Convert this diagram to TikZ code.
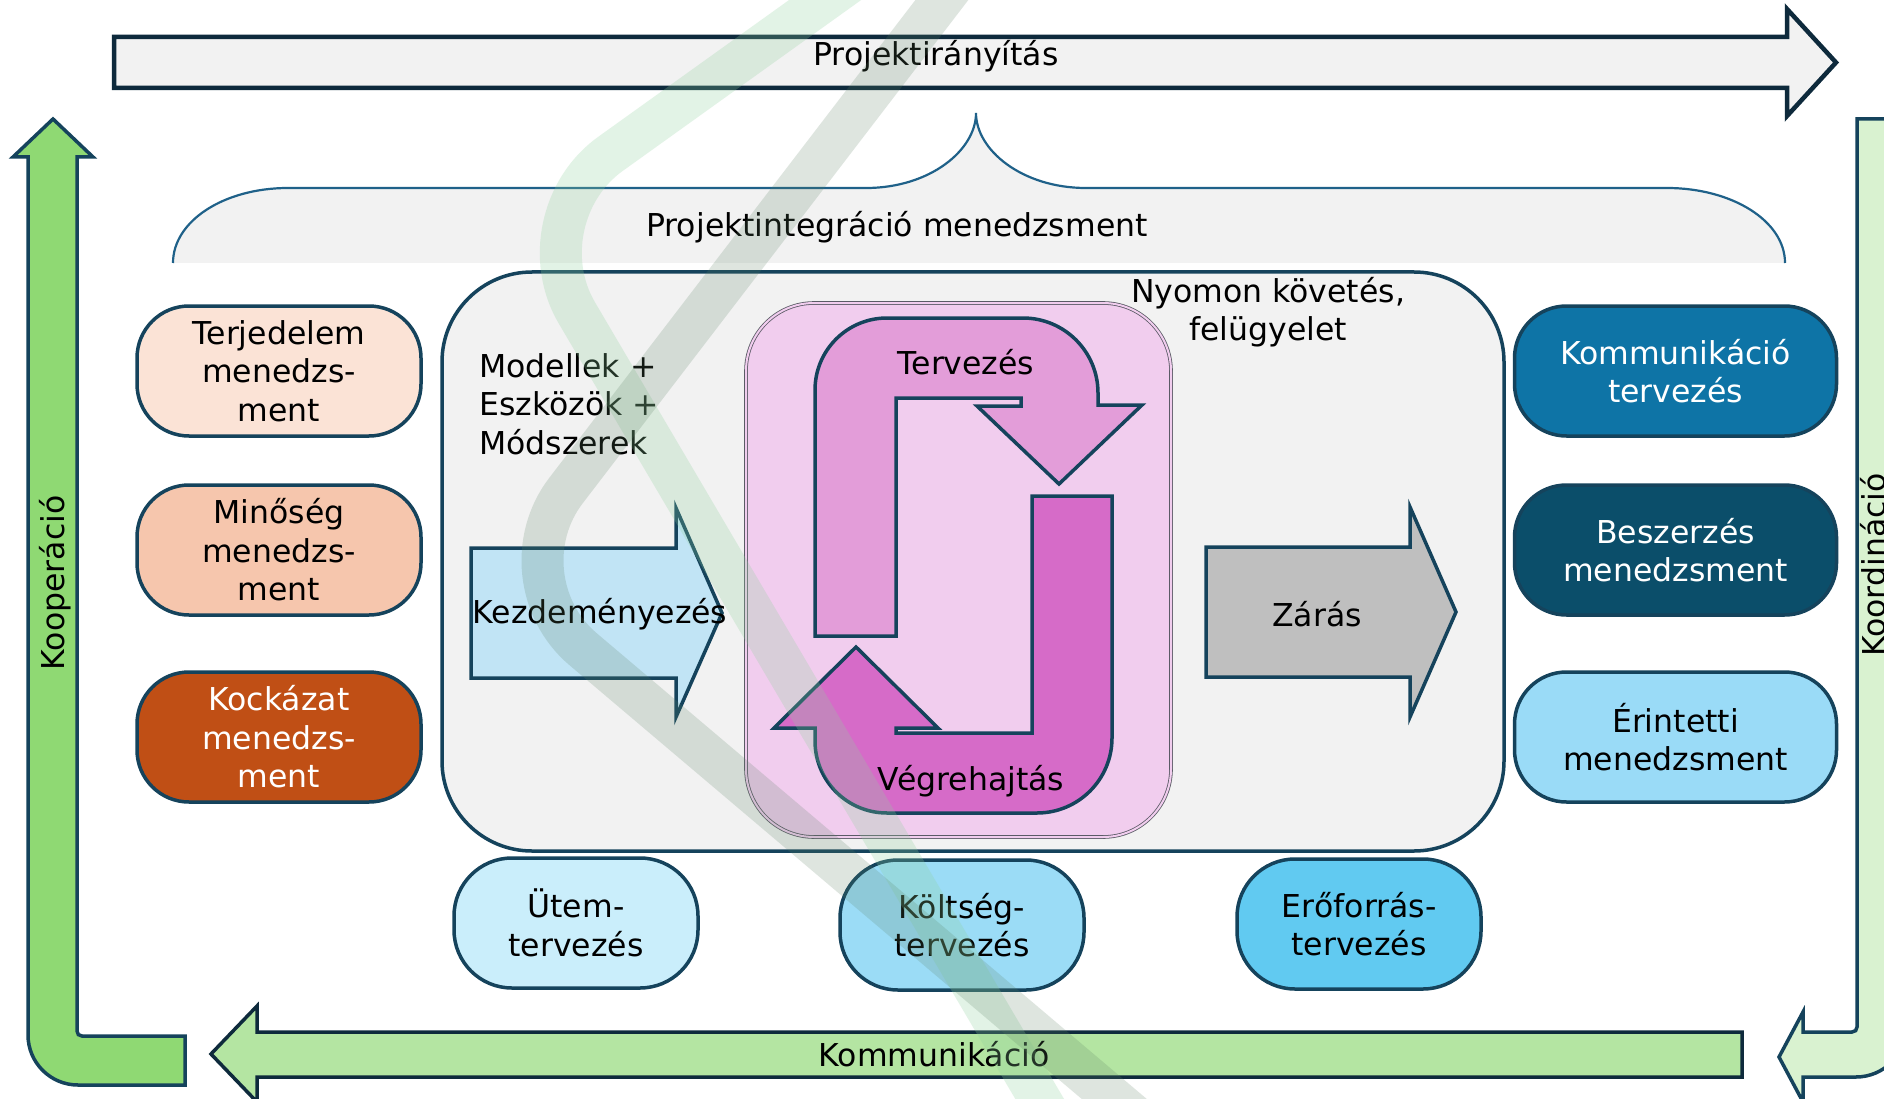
\documentclass[tikz,border=0pt]{standalone}
\usepackage{fontspec}
\setmainfont{DejaVu Sans}
\definecolor{edge}{HTML}{15435C}
\definecolor{darkedge}{HTML}{0E2A3C}
\definecolor{braceedge}{HTML}{1F6189}
\definecolor{panel}{HTML}{F2F2F2}
\definecolor{terjfill}{HTML}{FBE3D6}
\definecolor{minfill}{HTML}{F6C6AD}
\definecolor{kockfill}{HTML}{C04F15}
\definecolor{kommfill}{HTML}{0E74A6}
\definecolor{beszfill}{HTML}{0B4E6A}
\definecolor{erinfill}{HTML}{9ADBF7}
\definecolor{utemfill}{HTML}{CAEEFB}
\definecolor{koltfill}{HTML}{9BDCF6}
\definecolor{erofill}{HTML}{61CAF1}
\definecolor{pinkfill}{HTML}{F1CDEE}
\definecolor{pinkedge}{HTML}{5B5B66}
\definecolor{planfill}{HTML}{E39DD9}
\definecolor{execfill}{HTML}{D66BC8}
\definecolor{startfill}{HTML}{C1E4F5}
\definecolor{closefill}{HTML}{BFBFBF}
\definecolor{coopfill}{HTML}{8FD973}
\definecolor{coordfill}{HTML}{D9F2D0}
\definecolor{commfill}{HTML}{B4E5A2}
\definecolor{bandlight}{HTML}{8FD19E}
\definecolor{bandgray}{HTML}{5A7F63}
\begin{document}
\begin{tikzpicture}[x=1pt,y=-1pt,
  txt/.style={font=\fontsize{31.5}{38.5}\selectfont, align=center, inner sep=0pt},
  box/.style={txt, draw=edge, line width=3.5pt, rounded corners=52pt,
    minimum width=284pt, minimum height=130pt},
  rbox/.style={box, minimum width=322pt},
  bbox/.style={box, minimum width=244pt, rounded corners=58pt},
  blockarrow/.style={draw=edge, line width=3.5pt, line join=miter},
  band/.style={line width=42pt, rounded corners=110pt, line cap=butt}]
\useasboundingbox (0,0) rectangle (1884,1099);
\clip (0,0) rectangle (1884,1099);
\fill[white] (0,0) rectangle (1884,1099);

% top arrow: project control
\draw[blockarrow, draw=darkedge, line width=4.5pt, fill=panel]
  (114,37) -- (1787,37) -- (1787,9) -- (1836,62.5) -- (1787,116) -- (1787,88) -- (114,88) -- cycle;
\node[txt] (iranyitas) at (936,56) {Projektirányítás};

% brace-shaped band: integration management
\fill[panel] (173,263) .. controls (173,221) and (224,188) .. (288,188) -- (866,188)
  .. controls (930,188) and (976,150) .. (976,113)
  .. controls (976,150) and (1022,188) .. (1086,188) -- (1667,188)
  .. controls (1732,188) and (1785,221) .. (1785,263) -- cycle;
\draw[braceedge, line width=2.2pt] (173,263) .. controls (173,221) and (224,188) .. (288,188) -- (866,188)
  .. controls (930,188) and (976,150) .. (976,113)
  .. controls (976,150) and (1022,188) .. (1086,188) -- (1667,188)
  .. controls (1732,188) and (1785,221) .. (1785,263);
\node[txt] (integracio) at (897,227) {Projektintegráció menedzsment};

% central panel
\node[draw=edge, line width=3.5pt, fill=panel, rounded corners=90pt,
  minimum width=1062pt, minimum height=579pt, inner sep=0pt] (core) at (973,561.5) {};
\node[txt, align=left, anchor=west] (tools) at (479,404) {Modellek +\\Eszközök +\\Módszerek};
\node[txt] (monitor) at (1268,312) {Nyomon követés,\\felügyelet};

% planning / execution cycle
\node[draw=pinkedge, line width=0.8pt, double=pinkfill, double distance=2pt, fill=pinkfill,
  rounded corners=68pt, minimum width=425pt, minimum height=534pt, inner sep=0pt] (pdca) at (958.5,570) {};
\draw[blockarrow, fill=planfill]
  (815,636) -- (815,390) .. controls (815,350.2) and (847.2,318) .. (887,318)
  -- (1023,318) .. controls (1064.4,318) and (1098,351.6) .. (1098,393)
  -- (1098,405) -- (1142,405) -- (1059,484) -- (977,406) -- (1021,406) -- (1021,398)
  -- (896,398) -- (896,636) -- cycle;
\draw[blockarrow, fill=execfill]
  (1112,496) -- (1112,738) .. controls (1112,779.4) and (1078.4,813) .. (1037,813)
  -- (887,813) .. controls (847.2,813) and (815,780.8) .. (815,741)
  -- (815,728) -- (774,728) -- (856,647) -- (938,728) -- (896,728) -- (896,733)
  -- (1032,733) -- (1032,496) -- cycle;
\node[txt] (terv) at (966,362) {Tervezés};
\node[txt] (vegre) at (971,781) {Végrehajtás};

% initiation and closing arrows
\draw[blockarrow, fill=startfill]
  (471,548) -- (676,548) -- (676,508) -- (722,613) -- (676,717) -- (676,678) -- (471,678) -- cycle;
\node[txt] (kezd) at (600,614) {Kezdeményezés};
\draw[blockarrow, fill=closefill]
  (1206,547) -- (1410,547) -- (1410,507) -- (1456,612) -- (1410,717) -- (1410,677) -- (1206,677) -- cycle;
\node[txt] (zaras) at (1317,614) {Zárás};

% knowledge areas on the left
\node[box, fill=terjfill] (terj) at (279,371) {Terjedelem\\menedzs-\\ment};
\node[box, fill=minfill] (minoseg) at (279,550) {Minőség\\menedzs-\\ment};
\node[box, fill=kockfill, text=white] (kockazat) at (279,737) {Kockázat\\menedzs-\\ment};

% knowledge areas on the right
\node[rbox, fill=kommfill, text=white] (kommterv) at (1675.5,371) {Kommunikáció\\tervezés};
\node[rbox, fill=beszfill, text=white] (beszerzes) at (1675.5,550) {Beszerzés\\menedzsment};
\node[rbox, fill=erinfill] (erintett) at (1675.5,737) {Érintetti\\menedzsment};

% knowledge areas below
\node[bbox, fill=utemfill] (utem) at (576,923) {Ütem-\\tervezés};
\node[bbox, fill=koltfill] (koltseg) at (962,925) {Költség-\\tervezés};
\node[bbox, fill=erofill] (eroforras) at (1359,924) {Erőforrás-\\tervezés};

% cooperation arrow (left)
\draw[blockarrow, fill=coopfill]
  (53,119) -- (93,157) -- (77,157) -- (77,1031) .. controls (77,1034) and (79,1036) .. (82,1036)
  -- (185,1036) -- (185,1085) -- (78,1085) .. controls (50.4,1085) and (28,1062.6) .. (28,1035)
  -- (28,157) -- (13,157) -- cycle;
\node[txt, rotate=90] (koop) at (55,583) {Kooperáció};

% coordination arrow (right)
\draw[blockarrow, fill=coordfill]
  (1857,119) -- (1857,1027) .. controls (1857,1030) and (1855,1032) .. (1852,1032)
  -- (1803,1032) -- (1803,1012) -- (1779,1057) -- (1803,1102) -- (1803,1077)
  -- (1856,1077) .. controls (1883.6,1077) and (1906,1054.6) .. (1906,1027)
  -- (1906,119) -- cycle;
\node[txt, rotate=90] (koord) at (1873,565) {Koordináció};

% communication arrow (bottom)
\draw[blockarrow, draw=darkedge, fill=commfill]
  (211,1054) -- (257,1006) -- (257,1032) -- (1742,1032) -- (1742,1077) -- (257,1077) -- (257,1102) -- cycle;
\node[txt] (komm) at (934,1054) {Kommunikáció};

% translucent ribbons over the whole scheme
\draw[band, draw=bandlight, opacity=0.25] (860,-25) -- (521,218) -- (1055,1125);
\draw[band, draw=bandgray, opacity=0.2] (961,-25) -- (499,578) -- (1145,1125);
\end{tikzpicture}
\end{document}
